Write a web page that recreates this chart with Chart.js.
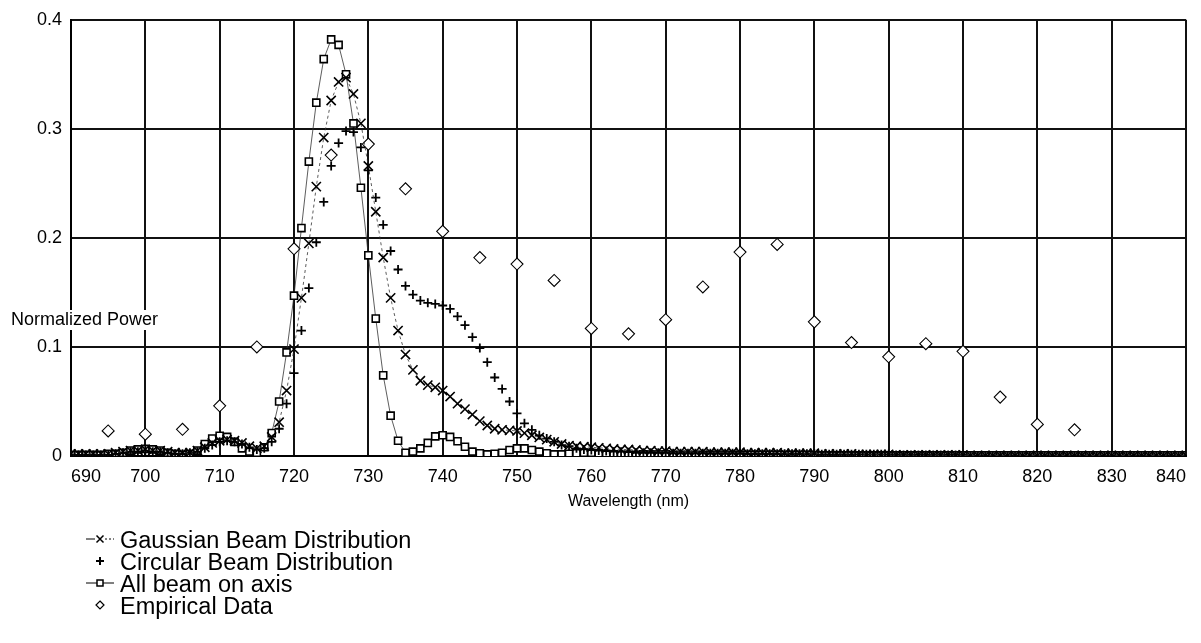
<!DOCTYPE html>
<html>
<head>
<meta charset="utf-8">
<title>Normalized Power vs Wavelength</title>
<script src="https://cdn.jsdelivr.net/npm/chart.js@4.4.1/dist/chart.umd.min.js"></script>
<style>
  html, body { margin: 0; padding: 0; background: #fff; }
  #wrap { width: 1201px; height: 643px; }
</style>
</head>
<body>
<div id="wrap"><canvas id="powerChart" width="1201" height="643"></canvas></div>
<script>
// Wavelength grid of the three model curves (nm)
const wavelengths = [
  690, 691, 692, 693, 694, 695, 696, 697, 698, 699,
  700, 701, 702, 703, 704, 705, 706, 707, 708, 709,
  710, 711, 712, 713, 714, 715, 716, 717, 718, 719,
  720, 721, 722, 723, 724, 725, 726, 727, 728, 729,
  730, 731, 732, 733, 734, 735, 736, 737, 738, 739,
  740, 741, 742, 743, 744, 745, 746, 747, 748, 749,
  750, 751, 752, 753, 754, 755, 756, 757, 758, 759,
  760, 761, 762, 763, 764, 765, 766, 767, 768, 769,
  770, 771, 772, 773, 774, 775, 776, 777, 778, 779,
  780, 781, 782, 783, 784, 785, 786, 787, 788, 789,
  790, 791, 792, 793, 794, 795, 796, 797, 798, 799,
  800, 801, 802, 803, 804, 805, 806, 807, 808, 809,
  810, 811, 812, 813, 814, 815, 816, 817, 818, 819,
  820, 821, 822, 823, 824, 825, 826, 827, 828, 829,
  830, 831, 832, 833, 834, 835, 836, 837, 838, 839,
  840
];

const gaussianBeam = [
  0.002, 0.002, 0.002, 0.002, 0.002, 0.002, 0.003, 0.004, 0.005, 0.005,
  0.006, 0.005, 0.005, 0.004, 0.003, 0.003, 0.003, 0.005, 0.008, 0.012,
  0.014, 0.015, 0.014, 0.012, 0.009, 0.007, 0.009, 0.0175, 0.031, 0.06,
  0.098, 0.145, 0.195, 0.247, 0.292, 0.326, 0.343, 0.347, 0.332, 0.305,
  0.266, 0.224, 0.182, 0.145, 0.115, 0.093, 0.079, 0.069, 0.065, 0.063,
  0.06, 0.0545, 0.048, 0.043, 0.038, 0.032, 0.028, 0.025, 0.024, 0.0235,
  0.023, 0.021, 0.019, 0.017, 0.015, 0.013, 0.011, 0.0095, 0.009, 0.0085,
  0.008, 0.0075, 0.007, 0.0065, 0.006, 0.006, 0.0055, 0.005, 0.005, 0.0045,
  0.0045, 0.004, 0.004, 0.004, 0.004, 0.004, 0.0035, 0.0035, 0.0035, 0.0035,
  0.0035, 0.003, 0.003, 0.003, 0.003, 0.003, 0.0025, 0.0025, 0.0025, 0.0025,
  0.0025, 0.002, 0.002, 0.002, 0.002, 0.002, 0.0015, 0.0015, 0.0015, 0.0015,
  0.0015, 0.001, 0.001, 0.001, 0.001, 0.001, 0.001, 0.001, 0.001, 0.001,
  0.001, 0.0005, 0.0005, 0.0005, 0.0005, 0.0005, 0.0005, 0.0005, 0.0005, 0.0005,
  0.0005, 0.0005, 0.0005, 0.0005, 0.0005, 0.0005, 0.0005, 0.0005, 0.0005, 0.0005,
  0.0005, 0.0005, 0.0005, 0.0005, 0.0005, 0.0005, 0.0005, 0.0005, 0.0005, 0.0005,
  0.0005
];

const circularBeam = [
  0.001, 0.001, 0.001, 0.001, 0.001, 0.001, 0.002, 0.003, 0.004, 0.004,
  0.005, 0.004, 0.004, 0.003, 0.002, 0.002, 0.003, 0.004, 0.007, 0.01,
  0.013, 0.014, 0.013, 0.011, 0.008, 0.006, 0.007, 0.013, 0.025, 0.048,
  0.076, 0.115, 0.154, 0.196, 0.233, 0.266, 0.287, 0.298, 0.297, 0.283,
  0.262, 0.237, 0.212, 0.188, 0.171, 0.156, 0.148, 0.1425, 0.1405, 0.1395,
  0.138, 0.135, 0.128, 0.12, 0.109, 0.099, 0.086, 0.072, 0.0615, 0.05,
  0.039, 0.03, 0.024, 0.019, 0.016, 0.013, 0.01, 0.009, 0.007, 0.006,
  0.0055, 0.005, 0.0045, 0.004, 0.004, 0.0035, 0.003, 0.003, 0.003, 0.003,
  0.003, 0.0025, 0.0025, 0.0025, 0.0025, 0.0025, 0.0025, 0.0025, 0.0025, 0.0025,
  0.0025, 0.002, 0.002, 0.002, 0.002, 0.002, 0.002, 0.002, 0.002, 0.002,
  0.002, 0.0015, 0.0015, 0.0015, 0.0015, 0.0015, 0.0015, 0.0015, 0.0015, 0.0015,
  0.0015, 0.001, 0.001, 0.001, 0.001, 0.001, 0.001, 0.001, 0.001, 0.001,
  0.001, 0.0005, 0.0005, 0.0005, 0.0005, 0.0005, 0.0005, 0.0005, 0.0005, 0.0005,
  0.0005, 0.0005, 0.0005, 0.0005, 0.0005, 0.0005, 0.0005, 0.0005, 0.0005, 0.0005,
  0.0005, 0.0005, 0.0005, 0.0005, 0.0005, 0.0005, 0.0005, 0.0005, 0.0005, 0.0005,
  0.0005
];

const allBeamOnAxis = [
  0.001, 0.001, 0.001, 0.001, 0.001, 0.002, 0.002, 0.003, 0.005, 0.006,
  0.0065, 0.006, 0.005, 0.003, 0.002, 0.001, 0.002, 0.005, 0.011, 0.016,
  0.0185, 0.0175, 0.013, 0.007, 0.004, 0.003, 0.008, 0.021, 0.05, 0.095,
  0.147, 0.209, 0.27, 0.324, 0.364, 0.382, 0.377, 0.35, 0.305, 0.246,
  0.184, 0.126, 0.074, 0.037, 0.014, 0.003, 0.004, 0.007, 0.012, 0.018,
  0.019, 0.0175, 0.0135, 0.0085, 0.004, 0.0025, 0.0015, 0.002, 0.003, 0.0055,
  0.007, 0.007, 0.0055, 0.004, 0.0025, 0.0015, 0.0015, 0.002, 0.0025, 0.003,
  0.003, 0.0025, 0.002, 0.0015, 0.001, 0.001, 0.001, 0.0015, 0.0015, 0.0015,
  0.0015, 0.001, 0.001, 0.001, 0.001, 0.001, 0.001, 0.001, 0.001, 0.001,
  0.001, 0.001, 0.001, 0.001, 0.001, 0.001, 0.001, 0.001, 0.001, 0.001,
  0.0005, 0.0005, 0.0005, 0.0005, 0.0005, 0.0005, 0.0005, 0.0005, 0.0005, 0.0005,
  0.0005, 0.0005, 0.0005, 0.0005, 0.0005, 0.0005, 0.0005, 0.0005, 0.0005, 0.0005,
  0.0005, 0.0005, 0.0005, 0.0005, 0.0005, 0.0005, 0.0005, 0.0005, 0.0005, 0.0005,
  0.0005, 0.0005, 0.0005, 0.0005, 0.0005, 0.0005, 0.0005, 0.0005, 0.0005, 0.0005,
  0.0005, 0.0005, 0.0005, 0.0005, 0.0005, 0.0005, 0.0005, 0.0005, 0.0005, 0.0005,
  0.0005
];

// Measured spectrum, every 5 nm
const empiricalWavelengths = [695, 700, 705, 710, 715, 720, 725, 730, 735, 740, 745, 750, 755, 760,
  765, 770, 775, 780, 785, 790, 795, 800, 805, 810, 815, 820, 825];
const empiricalPower = [0.023, 0.020, 0.0245, 0.046, 0.100, 0.190, 0.276, 0.286, 0.245, 0.206, 0.182, 0.176, 0.161, 0.117,
  0.112, 0.125, 0.155, 0.187, 0.194, 0.123, 0.104, 0.091, 0.103, 0.096, 0.054, 0.029, 0.024];

const xTicks = [690, 700, 710, 720, 730, 740, 750, 760, 770, 780, 790, 800, 810, 820, 830, 840];
const yTicks = [0, 0.1, 0.2, 0.3, 0.4];

const FONT = '"Liberation Sans", Arial, Helvetica, sans-serif';

function pairs(xs, ys) {
  return xs.map((x, i) => ({ x: x, y: ys[i] }));
}

// horizontal y-axis caption, drawn over the left border like in the original
const sideTitle = {
  id: 'sideTitle',
  afterDraw(chart) {
    const ctx = chart.ctx;
    ctx.save();
    ctx.font = '18px ' + FONT;
    const text = 'Normalized Power';
    const w = ctx.measureText(text).width;
    ctx.fillStyle = '#fff';
    ctx.fillRect(10, 310, w + 2, 20);
    ctx.fillStyle = '#000';
    ctx.textBaseline = 'middle';
    ctx.fillText(text, 11, 320);
    ctx.restore();
  }
};

// stacked legend under the x axis
const stackedLegend = {
  id: 'stackedLegend',
  afterDraw(chart) {
    const ctx = chart.ctx;
    const rows = [542, 564, 586, 608];
    const mx = 100; // marker centre
    ctx.save();
    ctx.strokeStyle = '#000';
    ctx.fillStyle = '#000';
    chart.data.datasets.forEach((ds, i) => {
      const y = rows[i];
      const my = y - 3;
      ctx.lineWidth = 1;
      ctx.setLineDash([]);
      if (i === 0) {
        ctx.beginPath(); ctx.moveTo(mx - 14, my); ctx.lineTo(mx - 5, my); ctx.stroke();
        ctx.setLineDash([2, 2]);
        ctx.beginPath(); ctx.moveTo(mx + 5, my); ctx.lineTo(mx + 14, my); ctx.stroke();
        ctx.setLineDash([]);
        ctx.lineWidth = 1.5;
        ctx.beginPath();
        ctx.moveTo(mx - 3.5, my - 3.5); ctx.lineTo(mx + 3.5, my + 3.5);
        ctx.moveTo(mx + 3.5, my - 3.5); ctx.lineTo(mx - 3.5, my + 3.5);
        ctx.stroke();
      } else if (i === 1) {
        ctx.lineWidth = 2;
        ctx.beginPath();
        ctx.moveTo(mx - 4, my); ctx.lineTo(mx + 4, my);
        ctx.moveTo(mx, my - 4); ctx.lineTo(mx, my + 4);
        ctx.stroke();
      } else if (i === 2) {
        ctx.beginPath(); ctx.moveTo(mx - 14, my); ctx.lineTo(mx + 14, my); ctx.stroke();
        ctx.lineWidth = 1.5;
        ctx.fillStyle = '#fff';
        ctx.fillRect(mx - 3, my - 3, 6, 6);
        ctx.strokeRect(mx - 3, my - 3, 6, 6);
        ctx.fillStyle = '#000';
      } else {
        ctx.lineWidth = 1.2;
        ctx.beginPath();
        ctx.moveTo(mx, my - 4); ctx.lineTo(mx + 4, my);
        ctx.lineTo(mx, my + 4); ctx.lineTo(mx - 4, my);
        ctx.closePath();
        ctx.stroke();
      }
      ctx.font = '23.5px ' + FONT;
      ctx.textBaseline = 'middle';
      ctx.fillText(ds.label, 120, y);
    });
    ctx.restore();
  }
};

const ctx = document.getElementById('powerChart').getContext('2d');
const powerChart = new Chart(ctx, {
  type: 'line',
  data: {
    datasets: [{
      label: 'Gaussian Beam Distribution',
      data: pairs(wavelengths, gaussianBeam),
      borderColor: '#333',
      borderWidth: 0.8,
      borderDash: [3, 3],
      pointStyle: 'crossRot',
      pointRadius: 6.5,
      pointBorderWidth: 1.6,
      pointBorderColor: '#000',
      pointBackgroundColor: '#000',
      tension: 0
    }, {
      label: 'Circular Beam Distribution',
      data: pairs(wavelengths, circularBeam),
      showLine: false,
      pointStyle: 'cross',
      pointRadius: 4.5,
      pointBorderWidth: 1.8,
      pointBorderColor: '#000',
      pointBackgroundColor: '#000'
    }, {
      label: 'All beam on axis',
      data: pairs(wavelengths, allBeamOnAxis),
      borderColor: '#333',
      borderWidth: 0.8,
      pointStyle: 'rect',
      pointRadius: 5,
      pointBorderWidth: 1.6,
      pointBorderColor: '#000',
      pointBackgroundColor: '#fff',
      tension: 0
    }, {
      label: 'Empirical Data',
      data: pairs(empiricalWavelengths, empiricalPower),
      showLine: false,
      pointStyle: 'rectRot',
      pointRadius: 6,
      pointBorderWidth: 1.1,
      pointBorderColor: '#000',
      pointBackgroundColor: '#fff'
    }]
  },
  options: {
    responsive: false,
    animation: false,
    devicePixelRatio: 1,
    layout: { padding: { top: 14, right: 15, left: 0, bottom: 127 } },
    plugins: {
      legend: { display: false },
      tooltip: { enabled: false }
    },
    scales: {
      x: {
        type: 'linear',
        min: 690,
        max: 840,
        afterFit: (s) => { s.height = 60; },
        afterBuildTicks: (s) => { s.ticks = xTicks.map(v => ({ value: v })); },
        ticks: {
          align: 'inner',
          padding: 10,
          color: '#000',
          maxRotation: 0,
          font: { size: 18, family: FONT },
          callback: (v) => String(v)
        },
        grid: { color: '#111', lineWidth: 2, drawTicks: false },
        border: { color: '#000', width: 2 },
        title: {
          display: true,
          text: 'Wavelength (nm)',
          color: '#000',
          font: { size: 16, family: FONT },
          padding: { top: 0, bottom: 5 }
        }
      },
      y: {
        min: 0,
        max: 0.4,
        afterFit: (s) => { s.width = 71; },
        afterBuildTicks: (s) => { s.ticks = yTicks.map(v => ({ value: v })); },
        ticks: {
          padding: 9,
          color: '#000',
          font: { size: 18, family: FONT },
          callback: (v) => String(Math.round(v * 10) / 10)
        },
        grid: { color: '#111', lineWidth: 2, drawTicks: false },
        border: { color: '#000', width: 2 }
      }
    }
  },
  plugins: [sideTitle, stackedLegend]
});
</script>
</body>
</html>
